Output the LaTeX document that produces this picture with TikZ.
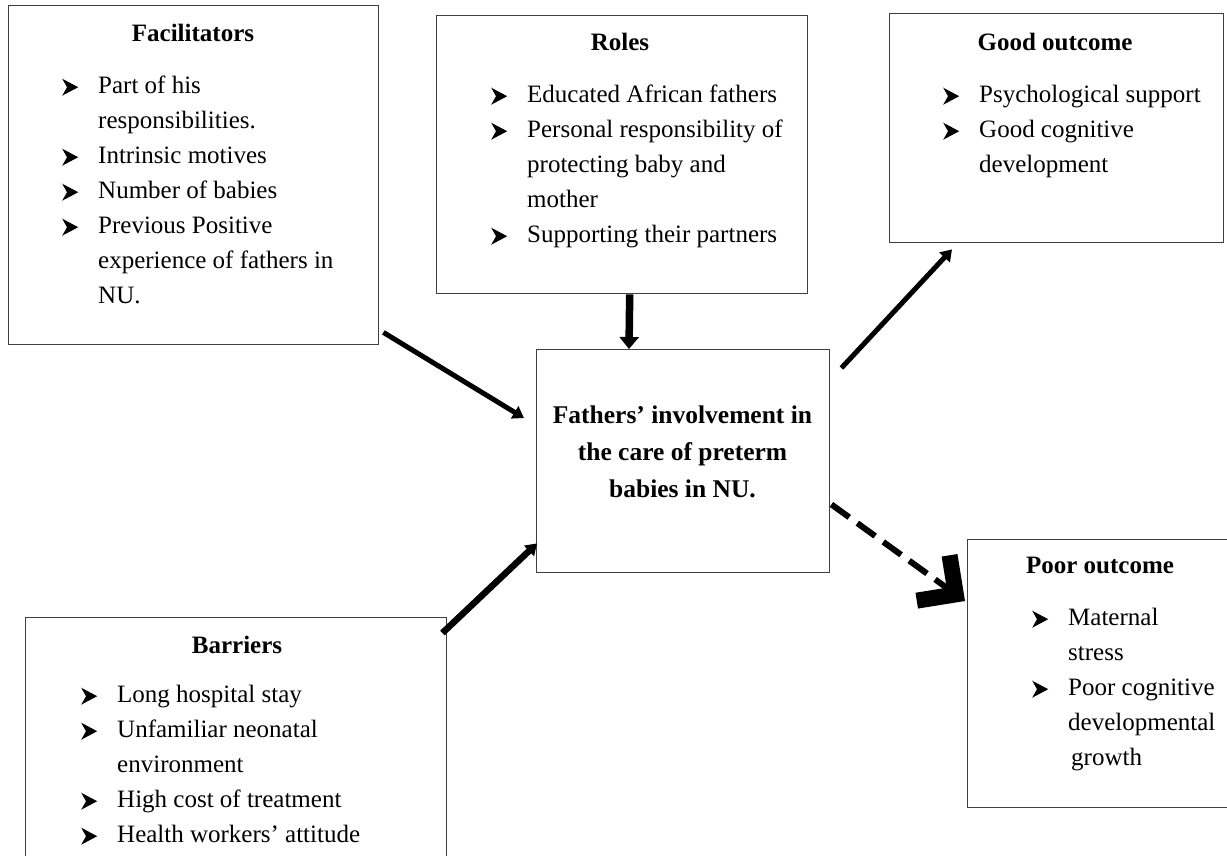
\documentclass[tikz,border=0pt]{standalone}
\usepackage{fontspec}
\setmainfont{Liberation Serif}
\usetikzlibrary{arrows.meta}
\newcommand\blt{\makebox[36pt][l]{\tikz[baseline=0pt,x=1pt,y=1pt]{\fill[black] (0,-2) -- (16,6.5) -- (0,15) -- (4.8,6.5) -- cycle;}}}
\newcommand\cnt{\hspace*{36pt}}
\begin{document}
\begin{tikzpicture}[x=1pt,y=-1pt,
 box/.style={draw=black!75, line width=1.4pt, anchor=north west, inner sep=0pt},
 ttl/.style={font=\bfseries\fontsize{25}{30}\selectfont, inner sep=0pt},
 lst/.style={font=\fontsize{25}{35}\selectfont, inner sep=0pt, anchor=north west},
 arr/.style={line width=5pt, -{Triangle[length=11pt,width=14pt]}},
]
\useasboundingbox (0,0) rectangle (1227,855);
% boxes
\node[box, minimum width=370pt, minimum height=339pt] (fac) at (8,5) {};
\node[box, minimum width=371pt, minimum height=278pt] (roles) at (436,15) {};
\node[box, minimum width=334pt, minimum height=229pt] (good) at (889,13) {};
\node[box, minimum width=293pt, minimum height=223pt] (ctr) at (536,349) {};
\node[box, minimum width=421pt, minimum height=262pt] (bar) at (25,617) {};
\node[box, minimum width=266pt, minimum height=268pt] (poor) at (967,539) {};
% titles
\node[ttl] (facT) at (193,33) {Facilitators};
\node[ttl] (rolesT) at (620,42) {Roles};
\node[ttl] (goodT) at (1055,42) {Good outcome};
\node[ttl] (poorT) at (1100,565) {Poor outcome};
\node[ttl] (barT) at (237,645) {Barriers};
\node[font=\bfseries\fontsize{25.5}{37}\selectfont, align=center, inner sep=0pt] (ctrT) at (682.5,452)
 {Fathers’ involvement in\\the care of preterm\\babies in NU.};
% lists
\node[lst] (facL) at (62,69) {\begin{tabular}{@{}l@{}}
\blt Part of his\\ \cnt responsibilities.\\ \blt Intrinsic motives\\ \blt Number of babies\\
\blt Previous Positive\\ \cnt experience of fathers in\\ \cnt NU.\end{tabular}};
\node[lst] (rolesL) at (491,78) {\begin{tabular}{@{}l@{}}
\blt Educated African fathers\\ \blt Personal responsibility of\\ \cnt protecting baby and\\ \cnt mother\\
\blt Supporting their partners\end{tabular}};
\node[lst] (goodL) at (943,78) {\begin{tabular}{@{}l@{}}
\blt Psychological support\\ \blt Good cognitive\\ \cnt development\end{tabular}};
\node[lst] (poorL) at (1032,601) {\begin{tabular}{@{}l@{}}
\blt Maternal\\ \cnt stress\\ \blt Poor cognitive\\ \cnt developmental\\ \cnt\hspace*{3pt}growth\end{tabular}};
\node[lst] (barL) at (81,678) {\begin{tabular}{@{}l@{}}
\blt Long hospital stay\\ \blt Unfamiliar neonatal\\ \cnt environment\\ \blt High cost of treatment\\
\blt Health workers’ attitude\end{tabular}};
% connectors
\draw[arr] ([shift={(4,-13)}]fac.south east) -- ([shift={(-12,69)}]ctr.north west);
\draw[line width=7.5pt, -{Triangle[length=12pt,width=19pt]}] ([xshift=7.5pt]roles.south) -- ([xshift=93pt]ctr.north west);
\draw[arr, line width=6.5pt] ([shift={(-5,16)}]bar.north east) -- ([shift={(1,-30)}]ctr.south west);
\draw[arr] ([shift={(11,19)}]ctr.north east) -- ([shift={(63,6)}]good.south west);
\draw[line width=6pt, dash pattern=on 22pt off 10pt, -{Straight Barb[length=28pt,width=56pt,line width=16pt]}]
 ([shift={(1,-69)}]ctr.south east) -- ([shift={(-2,62)}]poor.north west);
\end{tikzpicture}
\end{document}
